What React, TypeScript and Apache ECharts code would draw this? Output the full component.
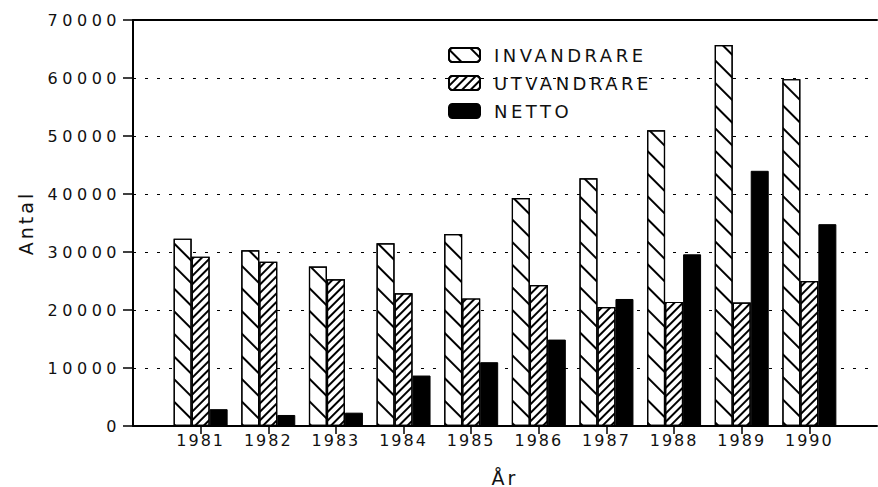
import React, { useEffect, useRef } from "react";
import * as echarts from "echarts";

const years = ["1980", "1981", "1982", "1983", "1984", "1985", "1986", "1987", "1988", "1989", "1990", "1991"];
const invandrare = [null, 32300, 30300, 27500, 31500, 33100, 39300, 42700, 51000, 65700, 59800, null];
const utvandrare = [null, 29200, 28300, 25300, 22900, 22000, 24300, 20500, 21400, 21300, 25000, null];
const netto = [null, 2900, 1900, 2300, 8700, 11000, 14900, 21900, 29600, 44000, 34800, null];
const seriesNames = ["INVANDRARE", "UTVANDRARE", "NETTO"];
const yTicks = [0, 10000, 20000, 30000, 40000, 50000, 60000, 70000];

const css = `
#chartbox text[style*="ylab"] { letter-spacing: 4.5px; }
#chartbox text[style*="xlab"] { letter-spacing: 2px; }
#chartbox text[style*="leglab"] { letter-spacing: 3.5px; }
#chartbox text[style*="axname"] { letter-spacing: 3px; }
`;

export default function App() {
  const ref = useRef<HTMLDivElement>(null);
  useEffect(() => {
    const chart = echarts.init(ref.current!, null, { renderer: "svg" });
    const inner = (i: number) => i > 0 && i < years.length - 1;
    chart.setOption({
      animation: false,
      backgroundColor: "#fff",
      grid: { left: 133, right: 1, top: 20, bottom: 61, containLabel: false, outerBoundsMode: "none" },
      legend: {
        orient: "vertical",
        left: 448,
        top: 46,
        padding: 0,
        itemWidth: 31,
        itemHeight: 14,
        itemGap: 10,
        data: seriesNames,
        textStyle: { fontFamily: "'DejaVu Sans', leglab", fontSize: 18, color: "#111", lineHeight: 16, padding: [0, 0, 0, 9] },
      },
      xAxis: [
        {
          type: "category",
          data: years,
          boundaryGap: false,
          axisLine: { show: true, lineStyle: { color: "#000", width: 2 } },
          axisTick: { show: true, interval: (i: number) => inner(i), length: 8, lineStyle: { color: "#000", width: 1.5 } },
          axisLabel: {
            interval: (i: number) => inner(i),
            margin: 6,
            color: "#111",
            fontFamily: "'DejaVu Sans', xlab",
            fontSize: 16,
          },
          splitLine: { show: false },
          name: "År",
          nameLocation: "middle",
          nameGap: 42,
          nameTextStyle: { fontFamily: "'DejaVu Sans', axname", fontSize: 19, color: "#111" },
        },
        {
          type: "category",
          data: years,
          boundaryGap: false,
          position: "top",
          axisLine: { show: true, onZero: false, lineStyle: { color: "#000", width: 2 } },
          axisTick: { show: false },
          axisLabel: { show: false },
        },
      ],
      yAxis: {
        type: "value",
        min: 0,
        max: 70000,
        interval: 10000,
        axisLine: { show: true, lineStyle: { color: "#000", width: 2 } },
        axisTick: { show: true, length: 10, lineStyle: { color: "#000", width: 1.5 } },
        axisLabel: {
          margin: 12,
          color: "#111",
          fontFamily: "'DejaVu Sans', ylab",
          fontSize: 16,
          formatter: (v: number) => (yTicks.includes(v) ? String(v) : ""),
        },
        splitLine: {
          show: true,
          lineStyle: { color: "#000", width: 1.2, type: [3, 9] },
        },
        name: "Antal",
        nameLocation: "middle",
        nameGap: 98,
        nameRotate: 90,
        nameTextStyle: { fontFamily: "'DejaVu Sans', axname", fontSize: 19, color: "#111" },
      },
      series: [
        {
          name: seriesNames[0],
          type: "bar",
          data: invandrare,
          barWidth: 18,
          barGap: "0%",
          itemStyle: {
            color: "#fff",
            borderColor: "#000",
            borderWidth: 1.2,
            decal: {
              symbol: "rect",
              symbolSize: 1,
              color: "#000",
              dashArrayX: [1, 0],
              dashArrayY: [1.4, 14],
              rotation: Math.PI / 4,
            },
          },
        },
        {
          name: seriesNames[1],
          type: "bar",
          data: utvandrare,
          barWidth: 18,
          barGap: "0%",
          itemStyle: {
            color: "#fff",
            borderColor: "#000",
            borderWidth: 1.2,
            decal: {
              symbol: "rect",
              symbolSize: 1,
              color: "#000",
              dashArrayX: [1, 0],
              dashArrayY: [1.2, 3.5],
              rotation: -Math.PI / 4,
            },
          },
        },
        {
          name: seriesNames[2],
          type: "bar",
          data: netto,
          barWidth: 18,
          barGap: "0%",
          itemStyle: { color: "#000", borderColor: "#000", borderWidth: 1 },
        },
      ],
    });
    return () => chart.dispose();
  }, []);
  return (
    <>
      <style>{css}</style>
      <div
        id="chartbox"
        ref={ref}
        style={{ position: "fixed", left: 0, top: 0, width: 878, height: 487, background: "#fff" }}
      />
    </>
  );
}
